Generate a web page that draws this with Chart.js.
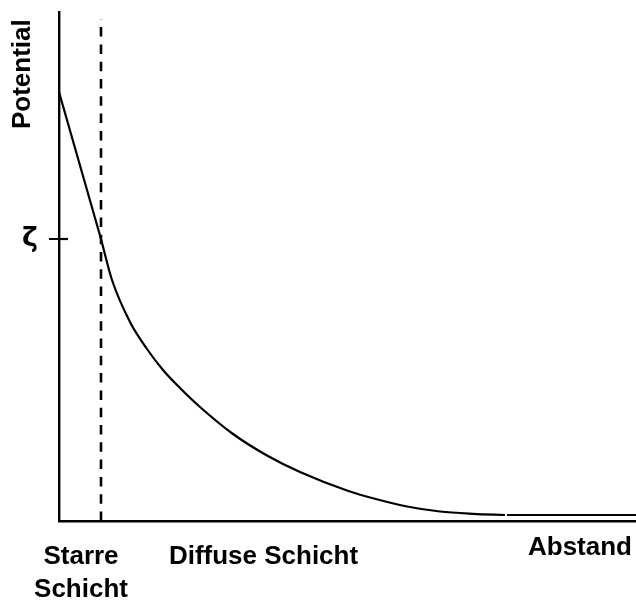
<!DOCTYPE html>
<html>
<head>
<meta charset="utf-8">
<script src="https://cdn.jsdelivr.net/npm/chart.js@4/dist/chart.umd.min.js"></script>
<style>
  body { margin: 0; background: #fff; }
</style>
</head>
<body>
<canvas id="chart" width="636" height="602"></canvas>
<script>
// Rigid (Stern) layer: straight drop from the wall to zeta
const rigidX = [0, 42];
const rigidY = [429, 282];

// Diffuse layer: decay
const diffuseX = [42, 53, 71, 88, 104, 121, 141, 174, 208, 241, 288, 314, 348, 381, 414, 446];
const diffuseY = [282, 241, 199, 172, 151, 133, 114, 87, 65.5, 49, 30.5, 22.7, 14.5, 9.5, 7.2, 6];

// flat tail after the small gap
const tailX = [448, 577];
const tailY = [6, 6];

// boundary between the two layers
const boundaryX = [42, 42];
const boundaryY = [0, 502];

// zeta mark on the potential axis
const zetaTicks = [282];
const zetaLabels = ['ζ'];
const zetaMarkX = [0, 9];

const xTickPositions = [22, 204.5, 521];
const xTickLabels = [['Starre', 'Schicht'], 'Diffuse Schicht', 'Abstand'];

const FONT = "'Liberation Sans', Arial, sans-serif";

function pts(xs, ys) {
    return xs.map((x, i) => ({ x: x, y: ys[i] }));
}

const lineStyle = {
    showLine: true,
    pointRadius: 0,
    borderColor: '#000',
    borderWidth: 2.2,
    fill: false
};

// keep the plot area where the picture has it (no extra label padding)
function noPadding(s) {
    s.paddingLeft = 0;
    s.paddingRight = 0;
    s.paddingTop = 0;
    s.paddingBottom = 0;
}

new Chart(document.getElementById('chart').getContext('2d'), {
    type: 'scatter',
    data: {
        datasets: [
            Object.assign({}, lineStyle, { data: pts(rigidX, rigidY), tension: 0 }),
            Object.assign({}, lineStyle, { data: pts(diffuseX, diffuseY), cubicInterpolationMode: 'monotone' }),
            Object.assign({}, lineStyle, { data: pts(tailX, tailY) }),
            Object.assign({}, lineStyle, { data: pts(boundaryX, boundaryY), borderDash: [9.5, 7.8], borderWidth: 2.6 }),
            Object.assign({}, lineStyle, { data: pts(zetaMarkX, [zetaTicks[0], zetaTicks[0]]) })
        ]
    },
    options: {
        responsive: false,
        animation: false,
        layout: { padding: { top: 12, right: 0, bottom: 0, left: 0 } },
        plugins: { legend: { display: false }, tooltip: { enabled: false } },
        scales: {
            x: {
                type: 'linear',
                min: 0,
                max: 577,
                afterFit: (s) => { s.height = 81; noPadding(s); },
                afterBuildTicks: (s) => { s.ticks = xTickPositions.map(v => ({ value: v })); },
                grid: { display: false, drawTicks: false },
                border: { display: true, color: '#000', width: 2.4 },
                ticks: {
                    autoSkip: false,
                    maxRotation: 0,
                    minRotation: 0,
                    padding: 20,
                    color: '#000',
                    font: (ctx) => ({ family: FONT, size: 26, weight: 'bold', lineHeight: ctx.index === 2 ? 0.54 : 1.25 }),
                    callback: (v, i) => xTickLabels[i]
                }
            },
            y: {
                type: 'linear',
                min: 0,
                max: 509,
                afterFit: (s) => { s.width = 59; noPadding(s); },
                afterBuildTicks: (s) => { s.ticks = zetaTicks.map(v => ({ value: v })); },
                grid: { drawOnChartArea: false, drawTicks: true, tickLength: 10, color: '#000', lineWidth: 2 },
                border: { display: true, color: '#000', width: 2.4 },
                ticks: {
                    padding: 11,
                    color: '#000',
                    font: { family: "'DejaVu Sans', sans-serif", size: 27, weight: 'bold' },
                    callback: (v, i) => zetaLabels[i]
                },
                title: {
                    display: true,
                    text: 'Potential ',
                    align: 'end',
                    color: '#000',
                    padding: { top: 7, bottom: 0 },
                    font: { family: FONT, size: 26, weight: 'bold' }
                }
            }
        }
    }
});
</script>
</body>
</html>
